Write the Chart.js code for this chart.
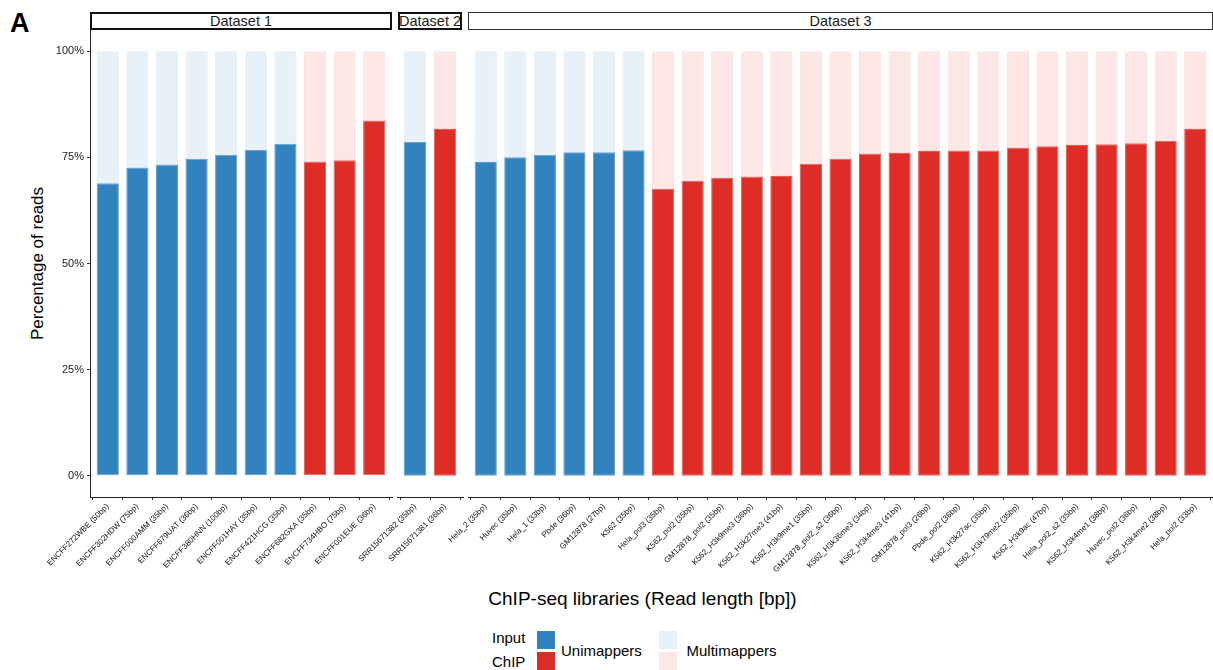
<!DOCTYPE html>
<html><head><meta charset="utf-8">
<script src="https://cdn.jsdelivr.net/npm/chart.js@4"></script>
<style>
html,body{margin:0;padding:0;background:#fff;}
body{width:1213px;height:670px;position:relative;overflow:hidden;font-family:"Liberation Sans",Arial,sans-serif;}
canvas.c{position:absolute;left:0;top:30px;}
.t{position:absolute;white-space:nowrap;line-height:1;color:#000;}
.strip{position:absolute;box-sizing:border-box;background:#fff;}
.sw{position:absolute;width:18px;height:18px;}
</style></head><body>

<div class="t" style="left:10px;top:10px;font-size:27px;font-weight:bold;">A</div>

<div class="strip" style="left:90px;top:12px;width:302px;height:18px;border:2px solid #111;"></div>
<div class="strip" style="left:398px;top:12px;width:64px;height:18px;border:2px solid #111;"></div>
<div class="strip" style="left:468px;top:12px;width:745px;height:18px;border:1px solid #333;"></div>
<div class="t" style="left:90px;width:302px;text-align:center;top:14.3px;font-size:14.5px;color:#1a1a1a;">Dataset 1</div>
<div class="t" style="left:398px;width:64px;text-align:center;top:14.3px;font-size:14.5px;color:#1a1a1a;">Dataset 2</div>
<div class="t" style="left:468px;width:745px;text-align:center;top:14.3px;font-size:14.5px;color:#1a1a1a;">Dataset 3</div>

<div class="t" style="left:-113px;width:300px;text-align:center;top:255px;font-size:17px;transform:rotate(-90deg);">Percentage of reads</div>
<div class="t" style="left:342.5px;width:600px;text-align:center;top:589px;font-size:19px;">ChIP-seq libraries (Read length [bp])</div>

<div class="t" style="left:492px;top:629.6px;font-size:15px;">Input</div>
<div class="t" style="left:492px;top:654px;font-size:15px;">ChIP</div>
<div class="sw" style="left:537px;top:631px;background:#3182BD;"></div>
<div class="sw" style="left:537px;top:652px;background:#DE2D26;"></div>
<div class="t" style="left:561px;top:643px;font-size:15px;">Unimappers</div>
<div class="sw" style="left:659px;top:631px;background:#E8F0F8;"></div>
<div class="sw" style="left:659px;top:652px;background:#FCE7E6;"></div>
<div class="t" style="left:686.5px;top:643px;font-size:15px;">Multimappers</div>

<canvas id="c1" class="c" width="1213" height="570"></canvas>
<canvas id="c2" class="c" width="1213" height="570"></canvas>
<canvas id="c3" class="c" width="1213" height="570"></canvas>

<script>
// ---- data ----
const labels1 = ["ENCFF272WBE (50bp)","ENCFF302HDW (75bp)","ENCFF000AMM (35bp)","ENCFF679UAT (36bp)","ENCFF380HNN (100bp)","ENCFF001HAY (35bp)","ENCFF421HCG (35bp)","ENCFF682GXA (35bp)","ENCFF734HBO (75bp)","ENCFF001EUE (36bp)"];
const uni1   = [68.9, 72.6, 73.3, 74.7, 75.6, 76.8, 78.2, 74.0, 74.3, 83.7];
const multi1 = [31.1, 27.4, 26.7, 25.3, 24.4, 23.2, 21.8, 26.0, 25.7, 16.3];
const type1  = ["Input","Input","Input","Input","Input","Input","Input","ChIP","ChIP","ChIP"];

const labels2 = ["SRR15671382 (35bp)","SRR15671381 (36bp)"];
const uni2   = [78.7, 81.7];
const multi2 = [21.3, 18.3];
const type2  = ["Input","ChIP"];

const labels3 = ["Hela_2 (35bp)","Huvec (35bp)","Hela_1 (33bp)","Pbde (36bp)","GM12878 (27bp)","K562 (35bp)","Hela_pol3 (35bp)","K562_pol2 (35bp)","GM12878_pol2 (35bp)","K562_H3k9me3 (36bp)","K562_H3k27me3 (41bp)","K562_H3k9me1 (35bp)","GM12878_pol2_s2 (36bp)","K562_H3k36me3 (34bp)","K562_H3k4me3 (41bp)","GM12878_pol3 (26bp)","Pbde_pol2 (36bp)","K562_H3k27ac (35bp)","K562_H3k79me2 (35bp)","K562_H3k9ac (47bp)","Hela_pol2_s2 (35bp)","K562_H3k4me1 (38bp)","Huvec_pol2 (36bp)","K562_H3k4me2 (38bp)","Hela_pol2 (33bp)"];
const uni3   = [73.9, 75.0, 75.6, 76.2, 76.2, 76.7, 67.6, 69.5, 70.2, 70.5, 70.6, 73.5, 74.7, 75.9, 76.0, 76.5, 76.6, 76.6, 77.3, 77.6, 77.9, 78.1, 78.3, 78.9, 81.7];
const multi3 = [26.1, 25.0, 24.4, 23.8, 23.8, 23.3, 32.4, 30.5, 29.8, 29.5, 29.4, 26.5, 25.3, 24.1, 24.0, 23.5, 23.4, 23.4, 22.7, 22.4, 22.1, 21.9, 21.7, 21.1, 18.3];
const type3  = ["Input","Input","Input","Input","Input","Input","ChIP","ChIP","ChIP","ChIP","ChIP","ChIP","ChIP","ChIP","ChIP","ChIP","ChIP","ChIP","ChIP","ChIP","ChIP","ChIP","ChIP","ChIP","ChIP"];

const yTicks = [0, 25, 50, 75, 100];

// ---- styles ----
const uniFill   = {Input:"#3182BD", ChIP:"#DE2D26"};
const uniEdge   = {Input:"#5E9DCF", ChIP:"#E55B55"};
const multiFill = {Input:"#E8F0F8", ChIP:"#FCE7E6"};
const multiEdge = {Input:"#E1EBF5", ChIP:"#F9DEDC"};
const FONT = "'Liberation Sans', Arial, sans-serif";
const W = 1213;

function makeChart(id, labels, uni, multi, types, left, right, showY) {
  const n = labels.length;
  return new Chart(document.getElementById(id), {
    type: 'bar',
    data: {
      datasets: [
        { label: 'Unimappers', data: uni.map((v,i)=>({x:i, y:v})),
          backgroundColor: types.map(t=>uniFill[t]), borderColor: types.map(t=>uniEdge[t]),
          borderWidth: 1, borderSkipped: false, categoryPercentage: 1, barPercentage: 0.75 },
        { label: 'Multimappers', data: multi.map((v,i)=>({x:i, y:v})),
          backgroundColor: types.map(t=>multiFill[t]), borderColor: types.map(t=>multiEdge[t]),
          borderWidth: 1, borderSkipped: false, categoryPercentage: 1, barPercentage: 0.75 }
      ]
    },
    options: {
      responsive: false, animation: false, devicePixelRatio: 1,
      layout: { padding: { left: left, right: W - right, top: 0, bottom: 0 } },
      plugins: { legend: { display: false }, tooltip: { enabled: false } },
      scales: {
        x: {
          type: 'linear', stacked: true, min: -0.6, max: n - 1 + 0.6, offset: false,
          afterBuildTicks: s => { s.ticks = labels.map((_, i) => ({ value: i })); },
          afterFit: s => { s.height = 103; s.paddingLeft = 0; s.paddingRight = 0; },
          ticks: { callback: v => labels[v], autoSkip: false, minRotation: 45, maxRotation: 45,
                   font: { family: FONT, size: 8 }, color: '#111', padding: 2 },
          grid: { drawOnChartArea: false, drawTicks: true, tickLength: 3, color: '#333' },
          border: { display: true, color: '#222', width: 1 }
        },
        y: {
          display: showY, stacked: true, min: -5, max: 105,
          afterBuildTicks: s => { s.ticks = yTicks.map(v => ({ value: v })); },
          afterFit: s => { if (showY) { s.width = 90; } else { s.width = 0; } s.paddingTop = 0; s.paddingBottom = 0; },
          ticks: { callback: v => v + '%', font: { family: FONT, size: 11 }, color: '#222', padding: 3 },
          grid: { drawOnChartArea: false, drawTicks: true, tickLength: 3, color: '#333' },
          border: { display: true, color: '#222', width: 1 }
        }
      }
    }
  });
}

makeChart('c1', labels1, uni1, multi1, type1, 0, 392, true);
makeChart('c2', labels2, uni2, multi2, type2, 397, 463, false);
makeChart('c3', labels3, uni3, multi3, type3, 468, 1213, false);
</script>
</body></html>
